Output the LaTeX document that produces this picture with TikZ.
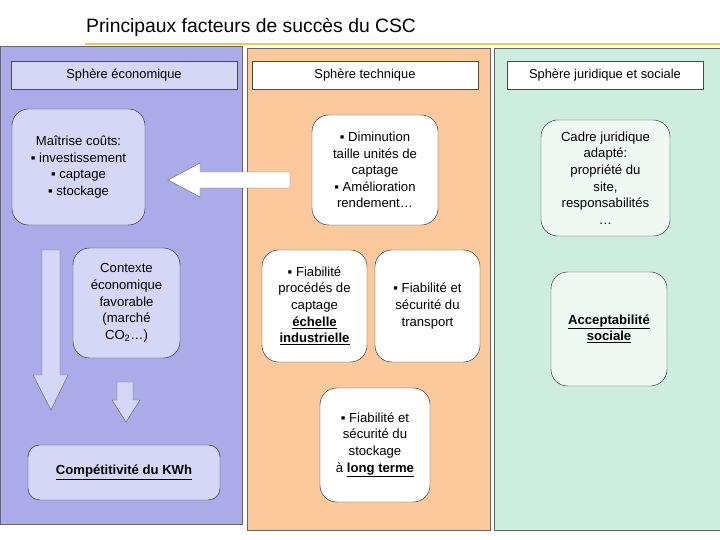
\documentclass[tikz,border=0pt]{standalone}
\usepackage{fontspec}
\setmainfont{Liberation Sans}
\definecolor{ecoblue}{HTML}{ABABE9}
\definecolor{ecolight}{HTML}{D6D6F6}
\definecolor{techorange}{HTML}{FBC99B}
\definecolor{jurgreen}{HTML}{CDEEDE}
\definecolor{jurlight}{HTML}{EEF9F3}
\definecolor{rulegold}{HTML}{E8C860}
\tikzset{
  panel/.style={draw=black!60, thin},
  header/.style={draw=black!70, fill=white, minimum height=0.84cm, font=\fontsize{11}{13}\selectfont},
  facteur/.style={draw=black!80, rounded corners=0.5cm, align=center, inner sep=2pt, font=\fontsize{11.2}{14.2}\selectfont},
  bigarrow/.style={draw=black!60, fill=white}
}
\begin{document}
\begin{tikzpicture}[x=0.03cm, y=-0.03cm]

    \useasboundingbox (0,0) rectangle (720,540);

    % Title and top rule
    \node[anchor=west, font=\fontsize{16.5}{19}\selectfont] (titre) at (82,27) {Principaux facteurs de succès du CSC};
    \draw[rulegold, line width=1.2pt] (85,44) -- (720,44);

    % Panels
    \fill[ecoblue] (0,46) rectangle (242,524);
    \fill[techorange] (247,48) rectangle (490,530);
    \fill[jurgreen] (494,48) rectangle (720,530);
    \draw[panel] (0,46) rectangle (242,524);
    \draw[panel] (247,48) rectangle (490,530);
    \draw[panel] (494,48) rectangle (720,530);

    % Headers
    \node[header, fill=ecolight, minimum width=6.78cm] (hEco) at (124,75) {Sphère économique};
    \node[header, minimum width=6.78cm] (hTech) at (365,75) {Sphère technique};
    \node[header, minimum width=5.88cm] (hJur) at (605,75) {Sphère juridique et sociale};

    % Economic sphere
    \node[facteur, fill=ecolight, minimum width=3.99cm, minimum height=3.48cm] (couts) at (78.5,167)
        {Maîtrise coûts:\\ ▪ investissement\\ ▪ captage\\ ▪ stockage};
    \node[facteur, fill=ecolight, minimum width=3.21cm, minimum height=3.3cm] (contexte) at (126.5,303)
        {Contexte\\ économique\\ favorable\\ (marché\\ CO\textsubscript{2}…)};
    \node[facteur, fill=ecolight, minimum width=5.76cm, minimum height=1.65cm, rounded corners=0.35cm] (kwh) at (124,472.5)
        {\textbf{\underline{Compétitivité du KWh}}};

    % Technical sphere
    \node[facteur, fill=white, minimum width=3.78cm, minimum height=3.3cm] (taille) at (375,170)
        {▪ Diminution\\ taille unités de\\ captage\\ ▪ Amélioration\\ rendement…};
    \node[facteur, fill=white, minimum width=3.15cm, minimum height=3.36cm] (procedes) at (314.5,306)
        {▪ Fiabilité\\ procédés de\\ captage\\ \textbf{\underline{échelle}}\\ \textbf{\underline{industrielle}}};
    \node[facteur, fill=white, minimum width=3.15cm, minimum height=3.36cm] (transport) at (427.5,306)
        {▪ Fiabilité et\\ sécurité du\\ transport};
    \node[facteur, fill=white, minimum width=3.3cm, minimum height=3.42cm] (stockage) at (375,445)
        {▪ Fiabilité et\\ sécurité du\\ stockage\\ à \textbf{\underline{long terme}}};

    % Legal and social sphere
    \node[facteur, fill=jurlight, minimum width=3.87cm, minimum height=3.48cm] (cadre) at (605.5,178)
        {Cadre juridique\\ adapté:\\ propriété du\\ site,\\ responsabilités\\ …};
    \node[facteur, fill=jurlight, minimum width=3.48cm, minimum height=3.42cm] (accept) at (609,329)
        {\textbf{\underline{Acceptabilité}}\\ \textbf{\underline{sociale}}};

    % Block arrows
    \draw[bigarrow] (290,172) -- (200,172) -- (200,163) -- (168,180) -- (200,197) -- (200,188) -- (290,188) -- cycle;
    \draw[bigarrow, fill=ecolight] (42,250) -- (60,250) -- (60,375) -- (68,375) -- (51,410) -- (33,375) -- (42,375) -- cycle;
    \draw[bigarrow, fill=ecolight] (117,382) -- (133,382) -- (133,400) -- (140,400) -- (126,422) -- (112,400) -- (117,400) -- cycle;

\end{tikzpicture}
\end{document}
